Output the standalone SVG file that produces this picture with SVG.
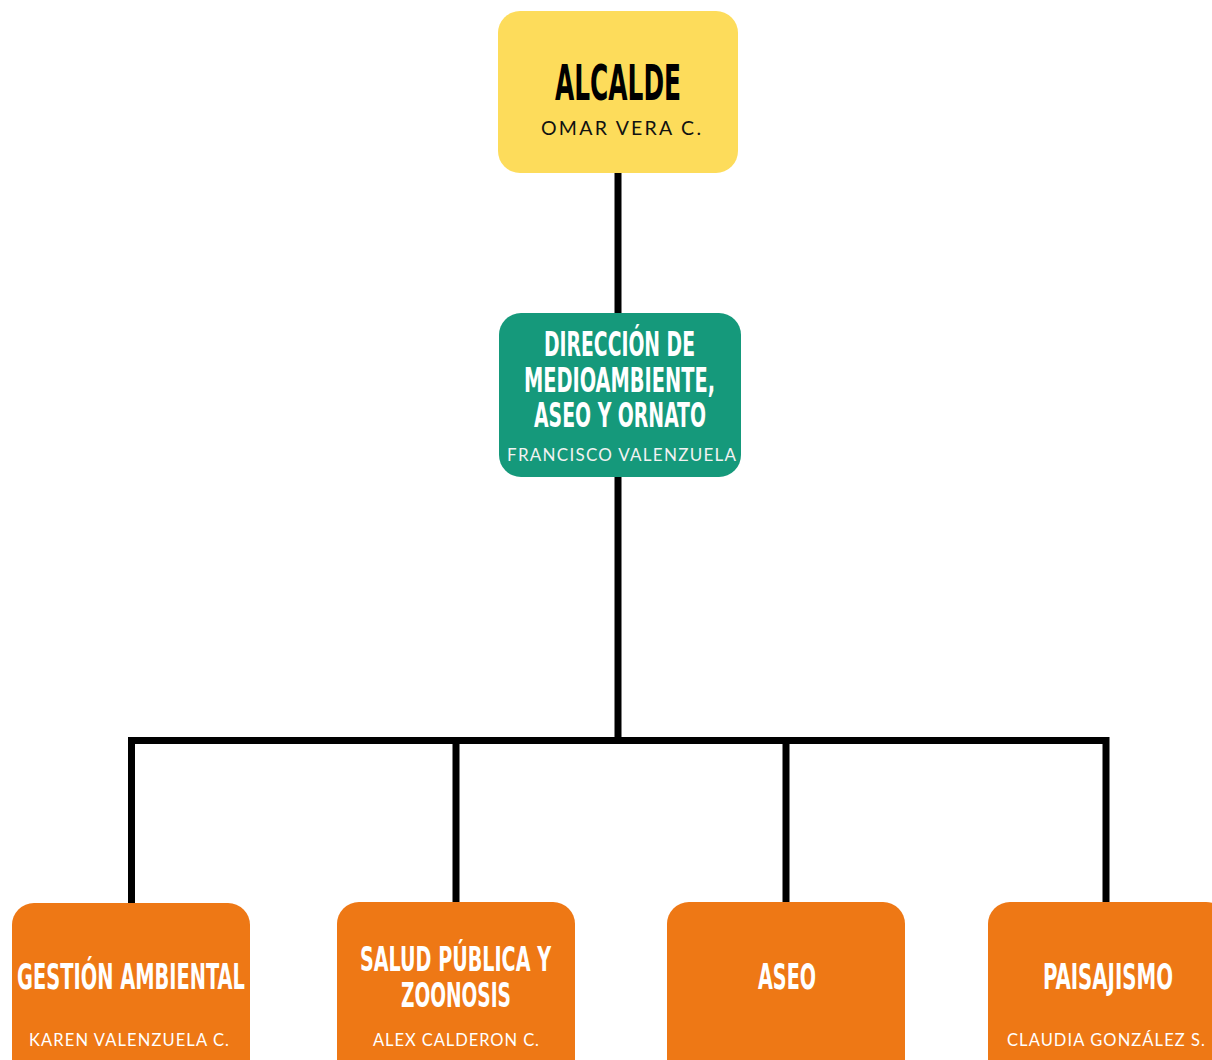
<svg xmlns="http://www.w3.org/2000/svg" width="1212" height="1060" viewBox="0 0 1212 1060">
<style>
.title{font-family:"Liberation Sans Narrow","DejaVu Sans Condensed","Liberation Sans",sans-serif;font-weight:bold;text-anchor:middle}
.sub{font-family:Lato,"Open Sans",sans-serif;text-anchor:middle}
.conn{stroke:#000;stroke-width:7;fill:none}
.orange{fill:#EE7815}
.w{fill:#FFFFFF}
</style>
<rect width="1212" height="1060" fill="#FFFFFF"/>
<g id="connectors">
<line class="conn" x1="618" y1="170" x2="618" y2="316"/>
<line class="conn" x1="618" y1="474" x2="618" y2="741"/>
<path class="conn" d="M131.5 906 V740.5 H1106 V906" stroke-linejoin="miter"/>
<line class="conn" x1="456" y1="740" x2="456" y2="906"/>
<line class="conn" x1="786" y1="740" x2="786" y2="906"/>
</g>
<g id="node-alcalde">
<rect x="498" y="11" width="240" height="162" rx="22" fill="#FDDC5B"/>
<text class="title" x="618" y="100" font-size="50" textLength="126" lengthAdjust="spacingAndGlyphs" fill="#000">ALCALDE</text>
<text class="sub" x="621" y="135" font-size="19.5" textLength="160" lengthAdjust="spacing" fill="#111">OMAR VERA C.</text>
</g>
<g id="node-direccion">
<rect x="499" y="313" width="242" height="164" rx="22" fill="#15997B"/>
<text class="title w" x="619.5" y="356" font-size="34" textLength="151" lengthAdjust="spacingAndGlyphs">DIRECCIÓN DE</text>
<text class="title w" x="619.5" y="392" font-size="34" textLength="191" lengthAdjust="spacingAndGlyphs">MEDIOAMBIENTE,</text>
<text class="title w" x="620" y="427" font-size="34" textLength="172" lengthAdjust="spacingAndGlyphs">ASEO Y ORNATO</text>
<text class="sub" x="621.5" y="461" font-size="17" textLength="229" lengthAdjust="spacing" fill="#F2F2F2">FRANCISCO VALENZUELA</text>
</g>
<g id="node-gestion">
<rect class="orange" x="12" y="903" width="238" height="180" rx="22"/>
<text class="title w" x="131" y="989" font-size="35" textLength="228" lengthAdjust="spacingAndGlyphs">GESTIÓN AMBIENTAL</text>
<text class="sub w" x="129" y="1046" font-size="16.5" textLength="200" lengthAdjust="spacing">KAREN VALENZUELA C.</text>
</g>
<g id="node-salud">
<rect class="orange" x="337" y="902" width="238" height="180" rx="22"/>
<text class="title w" x="455.5" y="971" font-size="34" textLength="191" lengthAdjust="spacingAndGlyphs">SALUD PÚBLICA Y</text>
<text class="title w" x="456" y="1007" font-size="34" textLength="110" lengthAdjust="spacingAndGlyphs">ZOONOSIS</text>
<text class="sub w" x="456" y="1046" font-size="16.5" textLength="166" lengthAdjust="spacing">ALEX CALDERON C.</text>
</g>
<g id="node-aseo">
<rect class="orange" x="667" y="902" width="238" height="180" rx="22"/>
<text class="title w" x="787" y="989" font-size="35" textLength="58" lengthAdjust="spacingAndGlyphs">ASEO</text>
</g>
<g id="node-paisajismo">
<rect class="orange" x="988" y="902" width="240" height="180" rx="22"/>
<text class="title w" x="1108" y="989" font-size="35" textLength="130" lengthAdjust="spacingAndGlyphs">PAISAJISMO</text>
<text class="sub w" x="1106" y="1046" font-size="16.5" textLength="198" lengthAdjust="spacing">CLAUDIA GONZÁLEZ S.</text>
</g>
</svg>
